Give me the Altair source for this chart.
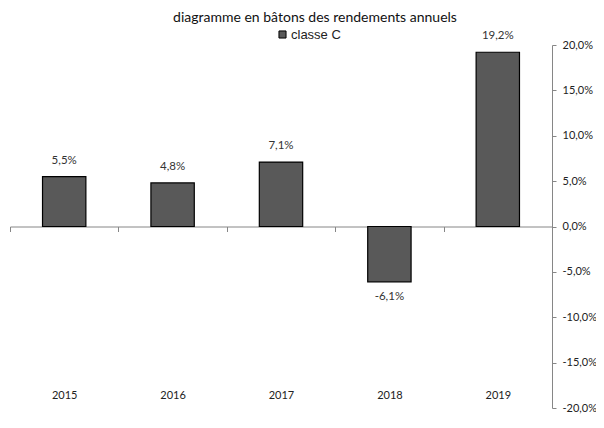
import altair as alt
import pandas as pd

years = ["2015", "2016", "2017", "2018", "2019"]
values = [0.055, 0.048, 0.071, -0.061, 0.192]
series_name = "classe C"
y_ticks = [-0.20, -0.15, -0.10, -0.05, 0.0, 0.05, 0.10, 0.15, 0.20]

df = pd.DataFrame({"annee": years, "rendement": values, "serie": [series_name] * len(years)})

FONT = "Lato"
fmt_axis = "replace(replace(format(datum.value, '.1%'), '.', ','), '\u2212', '-')"
fmt_text = "replace(replace(format(datum.rendement, '.1%'), '.', ','), '\u2212', '-')"

W, H = 542, 363

x_enc = alt.X(
    "annee:N", sort=None, title=None,
    scale=alt.Scale(paddingInner=0, paddingOuter=0),
    axis=alt.Axis(orient="bottom", offset=-H / 2, tickBand="extent", labelAngle=0,
                  labelPadding=158, tickSize=5, domainColor="#868686", tickColor="#868686",
                  labelFont=FONT, labelFontSize=11, labelColor="#222222"),
)
y_enc = alt.Y(
    "rendement:Q", title=None,
    scale=alt.Scale(domain=[-0.2, 0.2], nice=False, zero=True),
    axis=alt.Axis(orient="right", values=y_ticks, labelExpr=fmt_axis, grid=False,
                  tickSize=4, domainColor="#868686", tickColor="#868686",
                  labelFont=FONT, labelFontSize=11, labelColor="#222222", labelPadding=6),
)

bars = alt.Chart(df).mark_bar(stroke="black", strokeWidth=1.2, width=alt.RelativeBandSize(0.4)).encode(
    x=x_enc, y=y_enc,
    color=alt.Color("serie:N", scale=alt.Scale(range=["#595959"]),
                    legend=alt.Legend(title=None, orient="none", legendX=266, legendY=-17,
                                      symbolType="square", symbolSize=50, symbolStrokeColor="black",
                                      symbolStrokeWidth=1, labelFont="Liberation Sans",
                                      labelFontSize=13, labelColor="#222222", labelOffset=2)),
)

text_base = alt.Chart(df).transform_calculate(lbl=fmt_text)
pos_text = text_base.transform_filter("datum.rendement >= 0").mark_text(
    dy=-11, baseline="bottom", font=FONT, fontSize=11.5, color="#333333"
).encode(x=alt.X("annee:N", sort=None), y="rendement:Q", text="lbl:N")
neg_text = text_base.transform_filter("datum.rendement < 0").mark_text(
    dy=9, baseline="top", font=FONT, fontSize=11.5, color="#333333"
).encode(x=alt.X("annee:N", sort=None), y="rendement:Q", text="lbl:N")

chart = alt.layer(bars, pos_text, neg_text).properties(
    width=W, height=H,
    background="white",
    title=alt.TitleParams("diagramme en bâtons des rendements annuels", anchor="middle",
                          font=FONT, fontSize=14, fontWeight="normal", color="#111111",
                          offset=3, dx=34),
    autosize=alt.AutoSizeParams(type="none"),
    padding={"left": 2, "top": 37, "right": 44, "bottom": 12},
).configure_view(stroke=None)

chart.save("out.html", embed_options={"renderer": "svg", "actions": False})
